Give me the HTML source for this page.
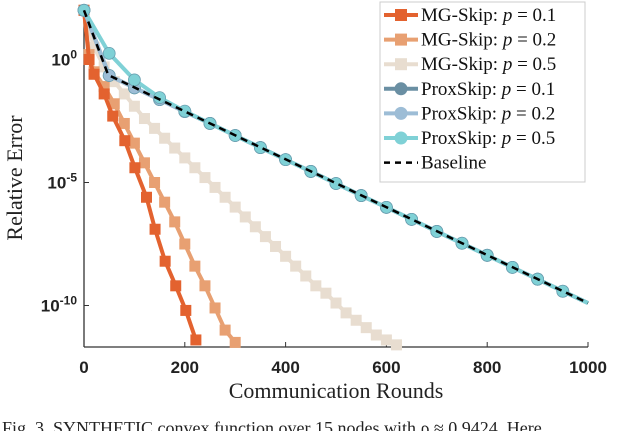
<!DOCTYPE html>
<html><head><meta charset="utf-8"><style>
body{margin:0;background:#fff;width:640px;height:431px;overflow:hidden}
svg{display:block}
</style></head><body>
<svg id="chart" width="640" height="431" xmlns="http://www.w3.org/2000/svg"></svg>
<script>
const mg01X=[0,10,20,40,57,81,101,124,141,161,182,202,222];
const mg01Y=[2,0,-0.6,-1.4,-2.3,-3.3,-4.4,-5.6,-6.9,-8.2,-9.2,-10.2,-11.4];
const mg02X=[0,10,20,40,60,80,100,120,140,160,180,200,220,240,260,280,300];
const mg02Y=[2,0.2,-0.5,-1.1,-1.8,-2.6,-3.4,-4.2,-5.0,-5.8,-6.6,-7.5,-8.4,-9.2,-10.1,-11.0,-11.5];
const mg05X=[0,20,40,60,80,100,120,140,160,180,200,220,240,260,280,300,320,340,360,380,400,420,440,460,480,500,520,540,560,580,600,620];
const mg05Y=[2,0.5,-0.3,-0.9,-1.4,-1.9,-2.4,-2.8,-3.2,-3.6,-4.0,-4.4,-4.8,-5.2,-5.6,-6.0,-6.4,-6.8,-7.2,-7.6,-8.0,-8.4,-8.8,-9.2,-9.5,-9.9,-10.3,-10.6,-10.9,-11.2,-11.4,-11.6];
const proxX=[0,50,100,150,200,250,300,350,400,450,500,550,600,650,700,750,800,850,900,950,1000];
const prox01Y=[2,-0.65,-1.15,-1.63,-2.12,-2.6,-3.09,-3.58,-4.07,-4.55,-5.04,-5.53,-6.01,-6.5,-6.99,-7.47,-7.96,-8.45,-8.93,-9.42,-9.9];
const prox02Y=[2,-0.65,-1.15,-1.63,-2.12,-2.6,-3.09,-3.58,-4.07,-4.55,-5.04,-5.53,-6.01,-6.5,-6.99,-7.47,-7.96,-8.45,-8.93,-9.42,-9.9];
const prox05Y=[2,0.25,-0.83,-1.55,-2.1,-2.6,-3.09,-3.58,-4.07,-4.55,-5.04,-5.53,-6.01,-6.5,-6.99,-7.47,-7.96,-8.45,-8.93,-9.42,-9.9];
const baseX=[0,48,1000];
const baseY=[2,-0.63,-9.9];
const xTicks=[0,200,400,600,800,1000];
const yTicks=[0,-5,-10];

const NS="http://www.w3.org/2000/svg";
const svg=document.getElementById('chart');
const x0=84,x1=588,decPx=24.6;
function sx(v){return x0+(x1-x0)*v/1000;}
function sy(d){return 59.5-d*decPx;}
function mk(t,a,p){const e=document.createElementNS(NS,t);for(const k in a)e.setAttribute(k,a[k]);(p||svg).appendChild(e);return e;}

const axes=mk('g',{});


mk('line',{x1:x0,y1:12,x2:x0,y2:347,stroke:'#333','stroke-width':1.3},axes);
mk('line',{x1:x0,y1:347,x2:x1,y2:347,stroke:'#333','stroke-width':1.3},axes);
xTicks.forEach(v=>{
  mk('line',{x1:sx(v),y1:347,x2:sx(v),y2:342,stroke:'#333'},axes);
  const t=mk('text',{x:sx(v),y:373,'text-anchor':'middle','font-family':'Liberation Sans, sans-serif','font-size':17,'font-weight':'bold',fill:'#222'},axes);
  t.textContent=v;
  
  
});
yTicks.forEach(d=>{
  mk('line',{x1:x0,y1:sy(d),x2:x0+5,y2:sy(d),stroke:'#333'},axes);
  const t=mk('text',{x:x0-7,y:sy(d)+6,'text-anchor':'end','font-family':'Liberation Sans, sans-serif','font-size':17,'font-weight':'bold',fill:'#222'},axes);
  t.innerHTML='10<tspan dy="-7" font-size="12">'+d+'</tspan>';
  
  
});
const xt=mk('text',{x:336,y:398,'text-anchor':'middle','font-family':'Liberation Serif, serif','font-size':22,fill:'#222'});
xt.textContent='Communication Rounds';


const yt=mk('text',{x:0,y:0,'text-anchor':'middle','font-family':'Liberation Serif, serif','font-size':22,fill:'#222',transform:'translate(22,178) rotate(-90)'});
yt.textContent='Relative Error';



function series(name,xs,ys,color,shape,skipLast){
  const g=mk('g',{});
  
  
  const pts=xs.map((v,i)=>sx(v)+','+sy(ys[i])).join(' ');
  mk('polyline',{points:pts,fill:'none',stroke:color,'stroke-width':4,'stroke-linejoin':'round'},g);
  xs.forEach((v,i)=>{
    if(skipLast&&i===xs.length-1) return;
    if(shape==='sq') mk('rect',{x:sx(v)-5.5,y:sy(ys[i])-5.5,width:11,height:11,fill:color},g);
    else mk('circle',{cx:sx(v),cy:sy(ys[i]),r:6,fill:color,stroke:'#6a9fb0','stroke-width':0.8},g);
  });
}
series('mg-skip-p05',mg05X,mg05Y,'#e8ddd0','sq',false);
series('mg-skip-p02',mg02X,mg02Y,'#e8a072','sq',false);
series('mg-skip-p01',mg01X,mg01Y,'#e3622f','sq',false);
series('proxskip-p01',proxX,prox01Y,'#6a8fa3','c',true);
series('proxskip-p02',proxX,prox02Y,'#9dbdd6','c',true);
series('proxskip-p05',proxX,prox05Y,'#7fd1d6','c',true);
const bl=mk('polyline',{points:baseX.map((v,i)=>sx(v)+','+sy(baseY[i])).join(' '),fill:'none',stroke:'#000','stroke-width':2.5,'stroke-dasharray':'7,5'});



const lg=mk('g',{});


mk('rect',{x:380,y:2,width:205,height:180,fill:'#fff',stroke:'#ccc','stroke-width':1},lg);
const labels=['MG-Skip: ','MG-Skip: ','MG-Skip: ','ProxSkip: ','ProxSkip: ','ProxSkip: ','Baseline'];
const vals=['0.1','0.2','0.5','0.1','0.2','0.5',''];
const cols=['#e3622f','#e8a072','#e8ddd0','#6a8fa3','#9dbdd6','#7fd1d6','#000'];
labels.forEach((l,i)=>{
  const y=15+24.6*i;
  const e=mk('g',{},lg);
  
  
  if(i<6){
    mk('line',{x1:384,y1:y,x2:418,y2:y,stroke:cols[i],'stroke-width':4},e);
    if(i<3) mk('rect',{x:395,y:y-6,width:12,height:12,fill:cols[i]},e);
    else mk('circle',{cx:401,cy:y,r:6.5,fill:cols[i]},e);
  } else mk('line',{x1:384,y1:y,x2:418,y2:y,stroke:'#000','stroke-width':2.5,'stroke-dasharray':'6,5'},e);
  const t=mk('text',{x:421,y:y+6,'font-family':'Liberation Serif, serif','font-size':19,fill:'#111'},e);
  t.innerHTML=i<6?l+'<tspan font-style="italic">p</tspan> = '+vals[i]:l;
});

const cap=mk('text',{x:2,y:434,'font-family':'Liberation Serif, serif','font-size':18,fill:'#222'});
cap.textContent='Fig. 3.  SYNTHETIC convex function over 15 nodes with ρ ≈ 0.9424. Here';


</script>
</body></html>
